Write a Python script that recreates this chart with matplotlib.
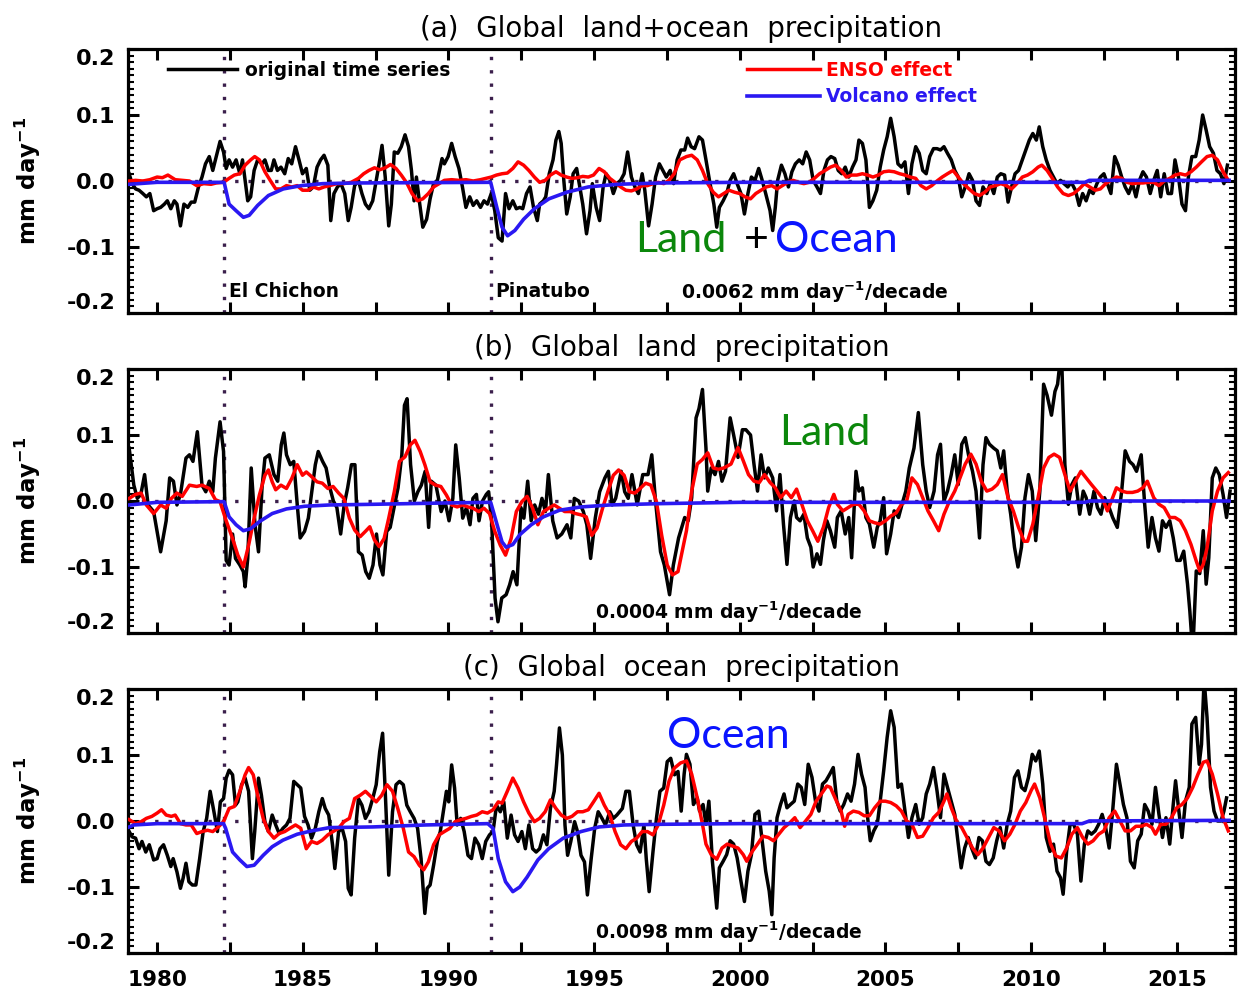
import numpy as np
import matplotlib
matplotlib.use('Agg')
import matplotlib.pyplot as plt
from matplotlib.ticker import MultipleLocator, FormatStrFormatter

plt.rcParams['font.family'] = 'DejaVu Sans'
plt.rcParams['font.weight'] = 'bold'
plt.rcParams['axes.labelweight'] = 'bold'
plt.rcParams['mathtext.default'] = 'bf'
plt.rcParams['axes.unicode_minus'] = False

# ---------------- data (year, mm/day) ----------------
eruptions = [1982.3, 1991.45]
eruption_names = ['El Chichon', 'Pinatubo']
titles = ['(a)  Global  land+ocean  precipitation',
          '(b)  Global  land  precipitation',
          '(c)  Global  ocean  precipitation']
trends = ['0.0062', '0.0004', '0.0098']
x_ticks = [1980, 1985, 1990, 1995, 2000, 2005, 2010, 2015]
y_ticks = [-0.2, -0.1, 0.0, 0.1, 0.2]

a_black = [
    (1979.04, 0.011), (1979.14, -0.004), (1979.26, -0.012), (1979.38, -0.014), (1979.51, -0.019),
    (1979.63, -0.024), (1979.75, -0.019), (1979.88, -0.045), (1980.00, -0.042), (1980.12, -0.040),
    (1980.25, -0.035), (1980.35, -0.030), (1980.47, -0.042), (1980.59, -0.030), (1980.68, -0.035),
    (1980.80, -0.068), (1980.92, -0.035), (1981.05, -0.040), (1981.17, -0.032), (1981.29, -0.032),
    (1981.42, -0.009), (1981.54, 0.006), (1981.66, 0.026), (1981.79, 0.037), (1981.91, 0.016),
    (1982.03, 0.037), (1982.16, 0.060), (1982.28, 0.044), (1982.37, 0.019), (1982.47, 0.032),
    (1982.59, 0.021), (1982.71, 0.032), (1982.84, 0.011), (1982.93, 0.032), (1983.02, 0.001),
    (1983.11, -0.030), (1983.21, -0.024), (1983.33, 0.016), (1983.45, 0.032), (1983.60, 0.026),
    (1983.70, 0.032), (1983.82, 0.016), (1983.92, 0.016), (1984.01, 0.032), (1984.13, 0.016),
    (1984.25, 0.021), (1984.38, 0.011), (1984.50, 0.034), (1984.62, 0.026), (1984.75, 0.052),
    (1984.87, 0.032), (1984.99, 0.011), (1985.12, 0.019), (1985.24, -0.014), (1985.36, -0.009),
    (1985.49, 0.021), (1985.61, 0.032), (1985.73, 0.039), (1985.86, 0.024), (1985.96, -0.060),
    (1986.07, -0.019), (1986.19, -0.009), (1986.31, -0.004), (1986.44, -0.019), (1986.56, -0.060),
    (1986.66, -0.040), (1986.78, -0.007), (1986.91, 0.001), (1987.03, -0.019), (1987.15, -0.035),
    (1987.27, -0.042), (1987.40, -0.030), (1987.52, 0.001), (1987.62, 0.026), (1987.72, 0.054),
    (1987.83, 0.006), (1987.95, -0.068), (1988.04, -0.035), (1988.14, 0.044), (1988.26, 0.042),
    (1988.38, 0.052), (1988.51, 0.070), (1988.63, 0.052), (1988.73, 0.016), (1988.82, -0.030),
    (1988.90, 0.006), (1989.00, -0.030), (1989.12, -0.070), (1989.25, -0.058), (1989.37, -0.027),
    (1989.49, -0.004), (1989.62, 0.001), (1989.78, 0.034), (1989.86, 0.026), (1989.99, 0.037),
    (1990.11, 0.057), (1990.23, 0.037), (1990.36, 0.019), (1990.48, -0.009), (1990.60, -0.040),
    (1990.73, -0.024), (1990.85, -0.037), (1990.97, -0.030), (1991.10, -0.040), (1991.22, -0.030),
    (1991.34, -0.035), (1991.47, -0.019), (1991.59, -0.045), (1991.71, -0.086), (1991.84, -0.091),
    (1991.96, -0.019), (1992.08, -0.042), (1992.21, -0.030), (1992.33, -0.042), (1992.45, -0.040),
    (1992.55, -0.042), (1992.68, -0.019), (1992.80, -0.009), (1992.92, -0.040), (1993.05, -0.060),
    (1993.13, -0.035), (1993.26, -0.030), (1993.34, -0.024), (1993.46, 0.011), (1993.59, 0.032),
    (1993.69, 0.062), (1993.79, 0.075), (1993.87, 0.057), (1993.96, 0.001), (1994.06, -0.050),
    (1994.18, -0.024), (1994.28, 0.011), (1994.40, 0.019), (1994.49, -0.004), (1994.61, -0.035),
    (1994.74, -0.080), (1994.86, -0.045), (1994.94, -0.004), (1995.07, -0.040), (1995.19, -0.060),
    (1995.31, -0.009), (1995.41, 0.011), (1995.54, 0.001), (1995.66, -0.019), (1995.78, -0.004),
    (1995.91, 0.001), (1996.03, 0.011), (1996.15, 0.044), (1996.28, 0.006), (1996.40, -0.009),
    (1996.52, -0.019), (1996.65, 0.011), (1996.74, -0.014), (1996.87, -0.068), (1996.99, -0.035),
    (1997.11, 0.006), (1997.24, 0.026), (1997.36, 0.016), (1997.48, 0.006), (1997.61, 0.016),
    (1997.73, -0.004), (1997.85, 0.032), (1997.98, 0.047), (1998.11, 0.047), (1998.21, 0.065),
    (1998.33, 0.052), (1998.45, 0.049), (1998.60, 0.067), (1998.72, 0.062), (1998.84, 0.032),
    (1998.96, 0.001), (1999.11, -0.035), (1999.21, -0.070), (1999.30, -0.040), (1999.43, -0.030),
    (1999.55, -0.019), (1999.67, 0.001), (1999.79, 0.011), (1999.91, -0.004), (2000.04, -0.019),
    (2000.16, -0.050), (2000.28, -0.019), (2000.40, 0.006), (2000.52, 0.001), (2000.65, 0.019),
    (2000.77, 0.001), (2000.89, -0.019), (2001.04, -0.045), (2001.13, -0.075), (2001.22, -0.040),
    (2001.30, 0.001), (2001.43, 0.024), (2001.55, 0.011), (2001.67, -0.009), (2001.79, 0.014),
    (2001.91, 0.026), (2002.04, 0.032), (2002.16, 0.026), (2002.28, 0.044), (2002.40, 0.032),
    (2002.52, 0.001), (2002.65, -0.009), (2002.77, -0.019), (2002.89, 0.016), (2003.01, 0.032),
    (2003.13, 0.037), (2003.26, 0.034), (2003.38, 0.016), (2003.50, 0.011), (2003.62, 0.021),
    (2003.74, 0.006), (2003.87, 0.021), (2003.99, 0.032), (2004.09, 0.062), (2004.21, 0.057),
    (2004.33, 0.032), (2004.45, -0.040), (2004.57, -0.030), (2004.70, -0.014), (2004.82, 0.021),
    (2004.94, 0.047), (2005.06, 0.067), (2005.18, 0.095), (2005.30, 0.067), (2005.43, 0.026),
    (2005.55, 0.021), (2005.67, 0.029), (2005.79, -0.019), (2005.91, 0.026), (2006.04, 0.052),
    (2006.16, 0.042), (2006.28, 0.016), (2006.40, 0.011), (2006.52, 0.037), (2006.65, 0.049),
    (2006.77, 0.049), (2006.89, 0.047), (2007.01, 0.052), (2007.13, 0.042), (2007.26, 0.032),
    (2007.38, 0.016), (2007.50, 0.006), (2007.62, -0.024), (2007.74, -0.009), (2007.87, 0.011),
    (2007.99, 0.001), (2008.11, -0.030), (2008.23, -0.037), (2008.35, -0.009), (2008.48, -0.019),
    (2008.60, -0.004), (2008.72, -0.019), (2008.84, 0.006), (2008.96, 0.011), (2009.09, 0.009),
    (2009.21, -0.032), (2009.33, -0.009), (2009.45, 0.011), (2009.57, 0.016), (2009.70, 0.032),
    (2009.82, 0.047), (2009.94, 0.062), (2010.06, 0.072), (2010.18, 0.062), (2010.28, 0.082),
    (2010.40, 0.052), (2010.52, 0.032), (2010.65, 0.016), (2010.77, 0.006), (2010.89, -0.004),
    (2011.01, 0.001), (2011.13, -0.004), (2011.26, -0.009), (2011.38, -0.002), (2011.52, -0.014),
    (2011.65, -0.037), (2011.77, -0.019), (2011.89, -0.030), (2012.01, -0.014), (2012.13, -0.019),
    (2012.26, -0.004), (2012.38, 0.006), (2012.50, 0.011), (2012.62, -0.004), (2012.74, -0.019),
    (2012.87, 0.037), (2012.99, 0.024), (2013.11, 0.006), (2013.23, -0.009), (2013.35, -0.019),
    (2013.48, -0.004), (2013.60, -0.024), (2013.72, 0.001), (2013.84, 0.014), (2013.96, 0.006),
    (2014.09, -0.019), (2014.21, 0.001), (2014.33, 0.016), (2014.45, -0.024), (2014.57, 0.011),
    (2014.70, -0.019), (2014.82, -0.019), (2014.94, 0.032), (2015.06, 0.006), (2015.18, -0.035),
    (2015.30, -0.045), (2015.40, 0.006), (2015.52, 0.037), (2015.65, 0.037), (2015.77, 0.062),
    (2015.89, 0.100), (2016.01, 0.077), (2016.13, 0.052), (2016.26, 0.042), (2016.38, 0.016),
    (2016.50, 0.011), (2016.62, -0.004), (2016.74, 0.024)]

a_enso = [
    (1979.04, 0.000), (1979.26, 0.001), (1979.51, 0.000), (1979.75, 0.002), (1980.00, 0.006),
    (1980.18, 0.005), (1980.37, 0.009), (1980.62, 0.002), (1980.86, 0.001), (1981.11, 0.000),
    (1981.36, -0.007), (1981.60, -0.004), (1981.85, -0.005), (1982.03, -0.003), (1982.28, -0.002),
    (1982.47, 0.004), (1982.65, 0.009), (1982.84, 0.011), (1983.02, 0.024), (1983.21, 0.032),
    (1983.35, 0.037), (1983.51, 0.032), (1983.70, 0.014), (1983.88, 0.001), (1984.07, -0.012),
    (1984.25, -0.012), (1984.44, -0.007), (1984.62, -0.009), (1984.81, -0.007), (1984.99, -0.014),
    (1985.18, -0.014), (1985.36, -0.009), (1985.55, -0.012), (1985.73, -0.009), (1985.92, -0.007),
    (1986.17, -0.004), (1986.41, -0.004), (1986.66, -0.002), (1986.91, 0.004), (1987.09, 0.011),
    (1987.27, 0.016), (1987.46, 0.020), (1987.64, 0.017), (1987.83, 0.020), (1988.01, 0.025),
    (1988.20, 0.019), (1988.38, 0.009), (1988.57, -0.003), (1988.75, -0.019), (1988.94, -0.030),
    (1989.12, -0.027), (1989.31, -0.019), (1989.49, -0.009), (1989.68, -0.004), (1989.86, 0.001),
    (1990.11, 0.002), (1990.36, 0.001), (1990.60, 0.002), (1990.85, 0.000), (1991.10, 0.002),
    (1991.28, 0.004), (1991.47, 0.006), (1991.65, 0.009), (1991.84, 0.011), (1992.02, 0.012),
    (1992.21, 0.019), (1992.39, 0.029), (1992.58, 0.024), (1992.76, 0.016), (1992.95, 0.006),
    (1993.13, -0.002), (1993.32, 0.001), (1993.50, 0.009), (1993.69, 0.014), (1993.87, 0.009),
    (1994.06, 0.006), (1994.24, 0.004), (1994.43, 0.005), (1994.61, 0.007), (1994.80, 0.006),
    (1994.98, 0.009), (1995.17, 0.019), (1995.35, 0.014), (1995.54, 0.004), (1995.72, -0.002),
    (1995.91, -0.009), (1996.09, -0.014), (1996.28, -0.015), (1996.46, -0.012), (1996.65, -0.007),
    (1996.83, -0.007), (1997.02, -0.004), (1997.20, -0.002), (1997.39, -0.004), (1997.57, 0.001),
    (1997.75, 0.011), (1997.94, 0.032), (1998.17, 0.037), (1998.35, 0.039), (1998.54, 0.032),
    (1998.72, 0.016), (1998.90, -0.004), (1999.09, -0.017), (1999.27, -0.024), (1999.45, -0.019),
    (1999.63, -0.014), (1999.82, -0.017), (2000.00, -0.019), (2000.18, -0.024), (2000.37, -0.027),
    (2000.55, -0.019), (2000.73, -0.014), (2000.91, -0.009), (2001.10, -0.007), (2001.28, -0.012),
    (2001.46, -0.007), (2001.65, -0.002), (2001.83, 0.001), (2002.01, -0.002), (2002.20, -0.004),
    (2002.38, -0.002), (2002.56, 0.004), (2002.74, 0.011), (2002.93, 0.016), (2003.11, 0.021),
    (2003.29, 0.024), (2003.48, 0.016), (2003.66, 0.006), (2003.84, 0.009), (2004.02, 0.009),
    (2004.21, 0.011), (2004.39, 0.009), (2004.57, 0.006), (2004.76, 0.009), (2004.94, 0.014),
    (2005.12, 0.015), (2005.30, 0.014), (2005.49, 0.011), (2005.67, 0.009), (2005.85, 0.006),
    (2006.04, 0.004), (2006.22, -0.007), (2006.40, -0.012), (2006.59, -0.007), (2006.77, 0.000),
    (2006.95, 0.006), (2007.13, 0.011), (2007.32, 0.016), (2007.50, 0.006), (2007.68, -0.004),
    (2007.87, -0.012), (2008.05, -0.019), (2008.23, -0.022), (2008.41, -0.017), (2008.60, -0.009),
    (2008.78, -0.007), (2008.96, -0.004), (2009.15, -0.007), (2009.33, -0.012), (2009.51, -0.004),
    (2009.70, 0.006), (2009.88, 0.009), (2010.06, 0.014), (2010.24, 0.021), (2010.37, 0.024),
    (2010.55, 0.016), (2010.73, 0.004), (2010.91, -0.009), (2011.10, -0.019), (2011.28, -0.022),
    (2011.46, -0.019), (2011.65, -0.012), (2011.83, -0.004), (2012.01, -0.009), (2012.20, -0.014),
    (2012.38, -0.012), (2012.56, -0.004), (2012.74, 0.001), (2012.93, 0.006), (2013.11, 0.004),
    (2013.29, -0.002), (2013.48, -0.004), (2013.66, -0.003), (2013.84, -0.003), (2014.02, -0.002),
    (2014.21, -0.002), (2014.39, -0.007), (2014.57, 0.000), (2014.76, 0.004), (2014.94, 0.009),
    (2015.12, 0.011), (2015.30, 0.009), (2015.49, 0.014), (2015.67, 0.021), (2015.85, 0.029),
    (2016.04, 0.037), (2016.22, 0.039), (2016.40, 0.032), (2016.59, 0.014), (2016.77, 0.001)]

a_volc = [
    (1979.04, -0.005), (1980.00, -0.002), (1982.30, -0.002), (1982.47, -0.035), (1982.71, -0.045),
    (1982.96, -0.055), (1983.16, -0.052), (1983.45, -0.037), (1983.82, -0.022), (1984.33, -0.012),
    (1984.95, -0.007), (1985.69, -0.004), (1986.80, -0.003), (1991.45, -0.002), (1991.66, -0.040),
    (1991.84, -0.070), (1992.03, -0.083), (1992.28, -0.075), (1992.58, -0.058), (1992.95, -0.042),
    (1993.45, -0.027), (1994.06, -0.017), (1994.80, -0.009), (1995.79, -0.005), (1997.26, -0.003),
    (2000.00, -0.002), (2011.85, -0.002), (2012.00, 0.001), (2016.80, 0.001)]

b_black = [
    (1979.04, 0.080), (1979.20, 0.024), (1979.32, 0.004), (1979.44, 0.010), (1979.57, 0.040),
    (1979.69, -0.006), (1979.88, -0.016), (1980.12, -0.077), (1980.31, -0.030), (1980.43, 0.035),
    (1980.56, 0.030), (1980.68, -0.006), (1980.80, 0.010), (1980.99, 0.065), (1981.11, 0.070),
    (1981.23, 0.060), (1981.38, 0.105), (1981.54, 0.024), (1981.67, 0.014), (1981.79, 0.030),
    (1981.91, 0.014), (1982.00, 0.065), (1982.16, 0.120), (1982.28, 0.075), (1982.37, -0.090),
    (1982.47, -0.097), (1982.59, -0.050), (1982.69, -0.087), (1982.84, -0.097), (1982.96, -0.107),
    (1983.02, -0.130), (1983.11, -0.087), (1983.23, 0.050), (1983.36, -0.036), (1983.48, -0.077),
    (1983.60, 0.020), (1983.70, 0.065), (1983.85, 0.070), (1984.01, 0.040), (1984.14, 0.030),
    (1984.26, 0.085), (1984.35, 0.103), (1984.44, 0.070), (1984.57, 0.055), (1984.69, 0.060),
    (1984.81, -0.006), (1984.91, -0.056), (1985.06, -0.046), (1985.19, -0.026), (1985.31, 0.014),
    (1985.43, 0.055), (1985.53, 0.075), (1985.68, 0.060), (1985.80, 0.050), (1985.93, 0.020),
    (1986.05, 0.000), (1986.17, -0.010), (1986.30, -0.050), (1986.42, -0.006), (1986.54, 0.020),
    (1986.67, 0.055), (1986.79, 0.055), (1986.91, -0.077), (1987.04, -0.082), (1987.16, -0.107),
    (1987.28, -0.117), (1987.41, -0.097), (1987.53, -0.050), (1987.65, -0.097), (1987.75, -0.112),
    (1987.88, -0.046), (1988.00, -0.040), (1988.15, -0.006), (1988.27, 0.020), (1988.40, 0.070),
    (1988.49, 0.145), (1988.58, 0.155), (1988.70, 0.055), (1988.83, 0.000), (1988.95, 0.014),
    (1989.07, 0.024), (1989.20, 0.045), (1989.32, -0.040), (1989.41, 0.030), (1989.57, 0.024),
    (1989.75, -0.016), (1989.88, 0.000), (1990.02, -0.030), (1990.15, 0.004), (1990.25, 0.085),
    (1990.37, 0.035), (1990.49, -0.026), (1990.62, -0.010), (1990.74, -0.036), (1990.84, 0.004),
    (1990.96, 0.010), (1991.05, -0.030), (1991.17, 0.000), (1991.30, 0.010), (1991.38, 0.014),
    (1991.48, -0.030), (1991.60, -0.147), (1991.70, -0.183), (1991.83, -0.147), (1991.98, -0.142),
    (1992.10, -0.127), (1992.22, -0.107), (1992.35, -0.127), (1992.49, -0.010), (1992.59, -0.026),
    (1992.72, 0.030), (1992.84, -0.030), (1992.96, -0.006), (1993.09, -0.020), (1993.21, 0.004),
    (1993.33, -0.016), (1993.43, 0.040), (1993.58, -0.030), (1993.73, -0.056), (1993.89, -0.050),
    (1994.07, -0.036), (1994.20, -0.056), (1994.32, 0.004), (1994.47, 0.000), (1994.63, -0.016),
    (1994.75, -0.036), (1994.88, -0.087), (1995.04, -0.026), (1995.19, 0.014), (1995.37, 0.035),
    (1995.49, 0.045), (1995.62, -0.006), (1995.74, 0.004), (1995.93, 0.045), (1996.05, 0.014),
    (1996.17, 0.004), (1996.30, 0.040), (1996.48, -0.006), (1996.67, 0.040), (1996.85, 0.040),
    (1996.98, 0.070), (1997.10, 0.004), (1997.28, -0.077), (1997.41, -0.097), (1997.59, -0.142),
    (1997.72, -0.097), (1997.90, -0.056), (1998.11, -0.025), (1998.23, -0.030), (1998.35, 0.005),
    (1998.50, 0.126), (1998.60, 0.140), (1998.72, 0.169), (1998.84, 0.080), (1998.90, 0.015),
    (1999.02, 0.050), (1999.15, 0.040), (1999.27, 0.060), (1999.39, 0.030), (1999.51, 0.045),
    (1999.67, 0.126), (1999.79, 0.100), (1999.94, 0.066), (2000.09, 0.108), (2000.21, 0.108),
    (2000.37, 0.100), (2000.49, 0.055), (2000.61, 0.015), (2000.73, 0.070), (2000.85, 0.035),
    (2000.98, 0.050), (2001.13, 0.035), (2001.26, -0.015), (2001.38, 0.040), (2001.50, -0.035),
    (2001.62, -0.096), (2001.74, -0.025), (2001.87, 0.000), (2001.95, -0.025), (2002.07, -0.030),
    (2002.20, -0.020), (2002.32, -0.056), (2002.44, -0.070), (2002.52, -0.100), (2002.65, -0.080),
    (2002.77, -0.096), (2002.87, -0.060), (2002.99, -0.030), (2003.11, -0.045), (2003.26, -0.070),
    (2003.35, -0.025), (2003.48, -0.015), (2003.62, -0.050), (2003.74, -0.025), (2003.84, -0.086),
    (2003.99, 0.045), (2004.09, 0.015), (2004.21, 0.020), (2004.33, -0.025), (2004.45, -0.035),
    (2004.60, -0.070), (2004.72, -0.040), (2004.82, -0.030), (2004.94, 0.005), (2005.04, -0.080),
    (2005.18, -0.050), (2005.30, -0.015), (2005.45, -0.025), (2005.57, -0.005), (2005.70, 0.015),
    (2005.82, 0.050), (2005.98, 0.080), (2006.13, 0.134), (2006.28, 0.055), (2006.40, 0.015),
    (2006.52, -0.010), (2006.67, 0.015), (2006.79, 0.070), (2006.89, 0.086), (2007.01, 0.000),
    (2007.13, 0.015), (2007.26, 0.040), (2007.38, 0.070), (2007.50, 0.025), (2007.62, 0.086),
    (2007.74, 0.096), (2007.87, 0.066), (2007.99, 0.045), (2008.11, 0.015), (2008.23, -0.056),
    (2008.35, 0.055), (2008.45, 0.096), (2008.57, 0.086), (2008.72, 0.080), (2008.84, 0.076),
    (2008.96, 0.050), (2009.06, 0.076), (2009.18, 0.015), (2009.30, -0.020), (2009.43, -0.070),
    (2009.55, -0.100), (2009.67, -0.070), (2009.79, 0.005), (2009.91, 0.040), (2010.04, 0.015),
    (2010.16, -0.060), (2010.30, 0.015), (2010.43, 0.177), (2010.55, 0.160), (2010.70, 0.130),
    (2010.82, 0.166), (2010.91, 0.177), (2011.04, 0.230), (2011.16, 0.055), (2011.28, -0.005),
    (2011.40, 0.025), (2011.52, 0.035), (2011.67, -0.020), (2011.79, 0.015), (2011.89, 0.005),
    (2012.01, -0.020), (2012.16, 0.015), (2012.28, -0.010), (2012.40, -0.020), (2012.52, 0.005),
    (2012.68, -0.010), (2012.80, -0.025), (2012.96, -0.040), (2013.11, 0.015), (2013.23, 0.076),
    (2013.38, 0.060), (2013.50, 0.055), (2013.62, 0.045), (2013.78, 0.070), (2013.90, -0.005),
    (2014.02, -0.070), (2014.15, -0.025), (2014.27, -0.056), (2014.39, -0.076), (2014.51, -0.030),
    (2014.63, -0.040), (2014.76, -0.030), (2014.88, -0.056), (2015.00, -0.090), (2015.12, -0.090),
    (2015.24, -0.076), (2015.37, -0.126), (2015.45, -0.167), (2015.55, -0.230), (2015.67, -0.106),
    (2015.79, -0.110), (2015.91, -0.045), (2016.01, -0.126), (2016.10, -0.086), (2016.22, 0.035),
    (2016.34, 0.050), (2016.46, 0.040), (2016.59, 0.010), (2016.71, -0.025), (2016.83, 0.015)]

b_enso = [
    (1979.04, 0.004), (1979.26, 0.010), (1979.45, 0.012), (1979.63, -0.006), (1979.88, -0.019),
    (1980.12, -0.006), (1980.31, -0.011), (1980.49, 0.004), (1980.68, 0.012), (1980.86, 0.007),
    (1981.11, 0.024), (1981.36, 0.022), (1981.54, 0.024), (1981.79, 0.019), (1982.00, 0.002),
    (1982.16, -0.001), (1982.34, -0.026), (1982.59, -0.057), (1982.77, -0.082), (1982.96, -0.100),
    (1983.14, -0.067), (1983.33, -0.026), (1983.51, 0.009), (1983.70, 0.039), (1983.82, 0.047),
    (1983.95, 0.029), (1984.07, 0.017), (1984.25, 0.024), (1984.44, 0.019), (1984.62, 0.034),
    (1984.81, 0.055), (1984.99, 0.039), (1985.12, 0.044), (1985.30, 0.037), (1985.49, 0.029),
    (1985.67, 0.027), (1985.86, 0.019), (1986.04, 0.022), (1986.23, 0.012), (1986.41, 0.004),
    (1986.60, -0.026), (1986.78, -0.044), (1986.97, -0.054), (1987.15, -0.046), (1987.30, -0.039),
    (1987.46, -0.059), (1987.62, -0.069), (1987.79, -0.057), (1987.95, -0.026), (1988.14, 0.014),
    (1988.32, 0.060), (1988.51, 0.067), (1988.69, 0.085), (1988.85, 0.092), (1989.03, 0.075),
    (1989.19, 0.055), (1989.37, 0.029), (1989.56, 0.024), (1989.74, 0.022), (1989.93, 0.009),
    (1990.11, -0.006), (1990.30, -0.009), (1990.48, -0.006), (1990.67, -0.009), (1990.85, -0.011),
    (1991.04, -0.016), (1991.22, -0.011), (1991.41, -0.019), (1991.59, -0.046), (1991.78, -0.067),
    (1991.96, -0.082), (1992.15, -0.057), (1992.33, -0.016), (1992.52, -0.001), (1992.70, 0.007),
    (1992.89, -0.011), (1993.07, -0.036), (1993.26, -0.016), (1993.44, -0.011), (1993.63, -0.006),
    (1993.81, -0.011), (1993.99, -0.016), (1994.18, -0.016), (1994.36, -0.019), (1994.55, -0.021),
    (1994.73, -0.024), (1994.92, -0.052), (1995.10, -0.041), (1995.29, -0.011), (1995.47, 0.014),
    (1995.66, 0.039), (1995.84, 0.047), (1996.03, 0.039), (1996.21, 0.014), (1996.40, 0.012),
    (1996.58, 0.019), (1996.77, 0.027), (1996.95, 0.024), (1997.14, -0.001), (1997.32, -0.052),
    (1997.51, -0.097), (1997.69, -0.112), (1997.88, -0.107), (1998.17, -0.045), (1998.35, 0.015),
    (1998.54, 0.056), (1998.72, 0.063), (1998.90, 0.073), (1999.09, 0.050), (1999.27, 0.048),
    (1999.45, 0.050), (1999.70, 0.056), (1999.94, 0.081), (2000.12, 0.061), (2000.30, 0.040),
    (2000.49, 0.030), (2000.67, 0.028), (2000.85, 0.040), (2001.04, 0.028), (2001.22, 0.020),
    (2001.40, 0.005), (2001.59, 0.015), (2001.77, 0.005), (2001.95, 0.018), (2002.13, -0.005),
    (2002.32, -0.030), (2002.50, -0.045), (2002.68, -0.061), (2002.87, -0.040), (2003.05, -0.010),
    (2003.23, 0.010), (2003.35, -0.005), (2003.54, -0.015), (2003.72, -0.010), (2003.90, -0.005),
    (2004.09, -0.005), (2004.27, -0.015), (2004.45, -0.030), (2004.63, -0.033), (2004.82, -0.035),
    (2005.00, -0.030), (2005.18, -0.023), (2005.37, -0.018), (2005.55, -0.005), (2005.73, 0.000),
    (2005.91, 0.035), (2006.10, 0.025), (2006.28, 0.005), (2006.46, -0.015), (2006.65, -0.030),
    (2006.83, -0.045), (2007.01, -0.020), (2007.20, 0.000), (2007.38, 0.015), (2007.56, 0.035),
    (2007.74, 0.056), (2007.93, 0.071), (2008.11, 0.056), (2008.29, 0.030), (2008.48, 0.015),
    (2008.66, 0.018), (2008.84, 0.025), (2009.02, 0.040), (2009.21, 0.005), (2009.39, -0.015),
    (2009.57, -0.040), (2009.76, -0.061), (2009.88, -0.061), (2010.06, -0.035), (2010.24, 0.005),
    (2010.43, 0.050), (2010.61, 0.066), (2010.79, 0.071), (2010.98, 0.066), (2011.16, 0.040),
    (2011.34, 0.015), (2011.52, 0.030), (2011.71, 0.045), (2011.89, 0.035), (2012.07, 0.025),
    (2012.26, 0.015), (2012.44, 0.005), (2012.62, -0.015), (2012.80, 0.005), (2012.93, 0.020),
    (2013.11, 0.015), (2013.29, 0.013), (2013.48, 0.013), (2013.66, 0.015), (2013.84, 0.020),
    (2013.99, 0.030), (2014.21, 0.005), (2014.39, -0.005), (2014.57, -0.010), (2014.76, -0.025),
    (2014.94, -0.025), (2015.12, -0.030), (2015.30, -0.045), (2015.49, -0.066), (2015.67, -0.091),
    (2015.79, -0.106), (2015.91, -0.096), (2016.04, -0.071), (2016.22, -0.015), (2016.40, 0.015),
    (2016.59, 0.035), (2016.77, 0.043)]

b_volc = [
    (1979.04, -0.006), (1980.00, -0.002), (1982.30, -0.001), (1982.47, -0.024), (1982.71, -0.036),
    (1982.96, -0.045), (1983.21, -0.042), (1983.52, -0.031), (1983.95, -0.019), (1984.44, -0.012),
    (1985.06, -0.008), (1985.92, -0.006), (1987.40, -0.005), (1989.86, -0.003), (1991.45, -0.002),
    (1991.67, -0.036), (1991.84, -0.062), (1991.98, -0.070), (1992.21, -0.066), (1992.45, -0.051),
    (1992.84, -0.036), (1993.26, -0.024), (1993.81, -0.014), (1994.55, -0.009), (1995.54, -0.006),
    (1997.26, -0.004), (2000.00, -0.002), (2011.85, -0.002), (2012.00, 0.000), (2016.80, 0.000)]

c_black = [
    (1979.04, -0.016), (1979.14, -0.024), (1979.26, -0.026), (1979.38, -0.042), (1979.48, -0.031),
    (1979.61, -0.047), (1979.73, -0.036), (1979.88, -0.059), (1980.00, -0.057), (1980.10, -0.042),
    (1980.22, -0.036), (1980.35, -0.052), (1980.47, -0.069), (1980.55, -0.057), (1980.68, -0.077),
    (1980.80, -0.102), (1980.89, -0.087), (1980.99, -0.064), (1981.09, -0.092), (1981.21, -0.097),
    (1981.33, -0.097), (1981.46, -0.057), (1981.58, -0.016), (1981.70, 0.004), (1981.82, 0.045),
    (1981.95, 0.014), (1982.07, -0.016), (1982.17, 0.029), (1982.28, 0.034), (1982.37, 0.065),
    (1982.47, 0.077), (1982.59, 0.070), (1982.69, 0.024), (1982.77, 0.029), (1982.90, 0.055),
    (1983.02, 0.065), (1983.14, 0.045), (1983.27, -0.057), (1983.35, -0.016), (1983.48, 0.065),
    (1983.58, 0.039), (1983.70, -0.001), (1983.82, -0.016), (1983.95, 0.009), (1984.07, -0.006),
    (1984.19, -0.019), (1984.32, -0.011), (1984.44, -0.006), (1984.56, 0.004), (1984.69, 0.060),
    (1984.81, 0.055), (1984.93, 0.050), (1985.06, 0.007), (1985.18, -0.006), (1985.30, -0.026),
    (1985.43, -0.011), (1985.55, 0.014), (1985.67, 0.034), (1985.77, 0.019), (1985.89, 0.009),
    (1986.02, -0.036), (1986.10, -0.072), (1986.23, -0.016), (1986.35, -0.011), (1986.47, -0.031),
    (1986.56, -0.102), (1986.66, -0.112), (1986.78, -0.026), (1986.91, 0.034), (1987.03, 0.024),
    (1987.15, 0.004), (1987.27, 0.014), (1987.40, 0.034), (1987.52, 0.055), (1987.64, 0.105),
    (1987.74, 0.133), (1987.83, 0.045), (1987.95, -0.082), (1988.08, 0.014), (1988.20, 0.055),
    (1988.32, 0.060), (1988.45, 0.055), (1988.57, 0.024), (1988.69, 0.014), (1988.82, 0.004),
    (1988.94, -0.011), (1989.06, -0.057), (1989.19, -0.140), (1989.27, -0.102), (1989.37, -0.097),
    (1989.49, -0.067), (1989.62, -0.031), (1989.72, -0.016), (1989.84, 0.019), (1989.93, 0.045),
    (1990.01, 0.029), (1990.11, 0.085), (1990.21, 0.050), (1990.30, -0.006), (1990.42, 0.004),
    (1990.54, -0.016), (1990.67, -0.052), (1990.79, -0.057), (1990.91, -0.026), (1991.04, -0.036),
    (1991.16, -0.057), (1991.28, -0.031), (1991.41, -0.021), (1991.53, -0.016), (1991.65, 0.024),
    (1991.78, 0.014), (1991.90, 0.029), (1992.02, -0.026), (1992.15, 0.009), (1992.27, -0.021),
    (1992.39, -0.031), (1992.52, -0.016), (1992.64, -0.042), (1992.76, -0.006), (1992.89, -0.042),
    (1993.01, -0.047), (1993.13, -0.042), (1993.26, -0.021), (1993.38, -0.036), (1993.50, 0.019),
    (1993.63, 0.045), (1993.71, 0.085), (1993.81, 0.141), (1993.91, 0.100), (1994.00, -0.006),
    (1994.09, -0.052), (1994.20, -0.031), (1994.33, -0.001), (1994.43, -0.016), (1994.55, -0.052),
    (1994.67, -0.062), (1994.77, -0.112), (1994.90, -0.057), (1995.02, -0.011), (1995.14, 0.014),
    (1995.27, 0.004), (1995.39, -0.006), (1995.54, 0.014), (1995.66, 0.004), (1995.78, 0.009),
    (1995.97, 0.019), (1996.09, 0.045), (1996.21, 0.045), (1996.34, -0.006), (1996.46, -0.036),
    (1996.58, -0.047), (1996.71, -0.006), (1996.79, -0.057), (1996.89, -0.107), (1997.02, -0.047),
    (1997.14, 0.004), (1997.26, 0.045), (1997.39, 0.050), (1997.51, 0.090), (1997.63, 0.095),
    (1997.76, 0.070), (1997.88, 0.075), (1997.99, 0.015), (1998.09, 0.071), (1998.17, 0.101),
    (1998.29, 0.086), (1998.41, 0.025), (1998.54, 0.035), (1998.62, 0.015), (1998.74, 0.025),
    (1998.84, -0.005), (1998.94, 0.030), (1999.06, -0.061), (1999.21, -0.132), (1999.30, -0.071),
    (1999.43, -0.061), (1999.55, -0.051), (1999.67, -0.030), (1999.79, -0.035), (1999.91, -0.056),
    (2000.04, -0.091), (2000.16, -0.122), (2000.28, -0.076), (2000.40, -0.051), (2000.52, 0.010),
    (2000.65, 0.015), (2000.77, -0.030), (2000.89, -0.076), (2001.01, -0.106), (2001.10, -0.142),
    (2001.18, -0.056), (2001.28, 0.005), (2001.40, 0.025), (2001.52, 0.041), (2001.62, 0.020),
    (2001.74, 0.025), (2001.87, 0.030), (2001.99, 0.056), (2002.11, 0.051), (2002.23, 0.025),
    (2002.35, 0.086), (2002.48, 0.066), (2002.60, 0.030), (2002.72, 0.015), (2002.84, 0.056),
    (2002.96, 0.061), (2003.09, 0.071), (2003.21, 0.081), (2003.33, 0.030), (2003.45, 0.015),
    (2003.57, 0.025), (2003.70, 0.041), (2003.82, 0.030), (2003.94, 0.056), (2004.06, 0.101),
    (2004.18, 0.071), (2004.30, 0.051), (2004.39, 0.005), (2004.48, -0.030), (2004.60, -0.015),
    (2004.72, -0.005), (2004.82, 0.030), (2004.94, 0.076), (2005.06, 0.127), (2005.18, 0.167),
    (2005.30, 0.142), (2005.43, 0.051), (2005.55, 0.056), (2005.67, 0.015), (2005.79, -0.025),
    (2005.91, 0.005), (2006.04, 0.025), (2006.16, -0.005), (2006.28, 0.005), (2006.40, 0.041),
    (2006.52, 0.056), (2006.65, 0.081), (2006.77, 0.046), (2006.89, 0.005), (2007.01, 0.071),
    (2007.13, 0.051), (2007.26, 0.030), (2007.38, 0.010), (2007.50, -0.035), (2007.60, -0.071),
    (2007.72, -0.041), (2007.84, -0.025), (2007.96, -0.041), (2008.09, -0.056), (2008.21, -0.025),
    (2008.33, -0.030), (2008.45, -0.061), (2008.57, -0.066), (2008.70, -0.056), (2008.82, -0.030),
    (2008.94, -0.010), (2009.06, -0.041), (2009.18, -0.005), (2009.30, 0.015), (2009.43, 0.066),
    (2009.55, 0.076), (2009.67, 0.051), (2009.79, 0.046), (2009.91, 0.066), (2010.04, 0.101),
    (2010.16, 0.091), (2010.28, 0.106), (2010.40, 0.056), (2010.52, -0.025), (2010.65, -0.046),
    (2010.77, -0.035), (2010.89, -0.076), (2011.01, -0.086), (2011.10, -0.111), (2011.22, -0.046),
    (2011.34, -0.005), (2011.46, -0.005), (2011.59, -0.020), (2011.71, -0.091), (2011.83, -0.035),
    (2011.95, -0.015), (2012.07, -0.020), (2012.20, -0.015), (2012.32, -0.005), (2012.44, 0.010),
    (2012.56, -0.010), (2012.68, -0.041), (2012.80, 0.015), (2012.93, 0.086), (2013.05, 0.056),
    (2013.17, 0.025), (2013.29, 0.005), (2013.41, -0.061), (2013.54, -0.071), (2013.66, -0.030),
    (2013.78, -0.020), (2013.90, 0.025), (2014.02, 0.015), (2014.15, -0.005), (2014.27, 0.051),
    (2014.39, 0.010), (2014.51, -0.025), (2014.63, 0.005), (2014.76, -0.035), (2014.88, 0.025),
    (2014.96, 0.061), (2015.06, 0.020), (2015.18, -0.025), (2015.30, 0.030), (2015.43, 0.051),
    (2015.52, 0.147), (2015.65, 0.157), (2015.77, 0.086), (2015.85, 0.116), (2015.94, 0.215),
    (2016.04, 0.157), (2016.16, 0.051), (2016.28, 0.015), (2016.40, 0.000), (2016.52, 0.000),
    (2016.62, 0.015), (2016.71, 0.035)]

c_enso = [
    (1979.04, 0.002), (1979.26, -0.004), (1979.45, -0.001), (1979.63, 0.004), (1979.82, 0.007),
    (1980.00, 0.012), (1980.15, 0.017), (1980.31, 0.009), (1980.49, 0.007), (1980.62, 0.009),
    (1980.80, -0.004), (1980.99, -0.006), (1981.17, -0.006), (1981.36, -0.019), (1981.54, -0.016),
    (1981.73, -0.014), (1981.91, -0.016), (1982.10, -0.009), (1982.28, -0.001), (1982.47, 0.019),
    (1982.65, 0.022), (1982.84, 0.045), (1983.02, 0.070), (1983.14, 0.081), (1983.30, 0.070),
    (1983.45, 0.039), (1983.64, 0.004), (1983.82, -0.016), (1984.01, -0.026), (1984.19, -0.019),
    (1984.38, -0.016), (1984.56, -0.011), (1984.75, -0.006), (1984.93, -0.011), (1985.12, -0.042),
    (1985.30, -0.031), (1985.49, -0.034), (1985.67, -0.029), (1985.86, -0.021), (1986.04, -0.016),
    (1986.23, -0.011), (1986.41, -0.001), (1986.60, 0.004), (1986.78, 0.034), (1986.97, 0.039),
    (1987.15, 0.045), (1987.34, 0.037), (1987.52, 0.029), (1987.71, 0.039), (1987.89, 0.055),
    (1988.08, 0.045), (1988.26, 0.019), (1988.45, -0.011), (1988.63, -0.047), (1988.82, -0.054),
    (1989.00, -0.067), (1989.15, -0.074), (1989.31, -0.062), (1989.49, -0.036), (1989.68, -0.021),
    (1989.86, -0.016), (1990.05, -0.011), (1990.23, -0.001), (1990.42, 0.002), (1990.60, 0.004),
    (1990.79, 0.007), (1990.97, 0.009), (1991.16, 0.014), (1991.34, 0.012), (1991.53, 0.017),
    (1991.71, 0.029), (1991.84, 0.027), (1992.02, 0.045), (1992.21, 0.065), (1992.39, 0.050),
    (1992.58, 0.029), (1992.76, 0.012), (1992.95, -0.001), (1993.13, 0.004), (1993.32, 0.014),
    (1993.50, 0.032), (1993.69, 0.019), (1993.87, 0.009), (1994.06, 0.004), (1994.24, 0.007),
    (1994.43, 0.014), (1994.61, 0.014), (1994.80, 0.017), (1994.98, 0.029), (1995.17, 0.042),
    (1995.35, 0.024), (1995.54, 0.009), (1995.72, -0.016), (1995.91, -0.036), (1996.09, -0.042),
    (1996.28, -0.031), (1996.46, -0.026), (1996.65, -0.016), (1996.83, -0.016), (1997.02, -0.021),
    (1997.20, -0.006), (1997.39, 0.024), (1997.57, 0.060), (1997.75, 0.080), (1997.97, 0.088),
    (1998.17, 0.091), (1998.35, 0.071), (1998.54, 0.035), (1998.72, -0.005), (1998.84, -0.035),
    (1999.02, -0.051), (1999.21, -0.058), (1999.39, -0.041), (1999.57, -0.035), (1999.76, -0.038),
    (1999.94, -0.041), (2000.12, -0.051), (2000.24, -0.061), (2000.43, -0.046), (2000.61, -0.035),
    (2000.79, -0.023), (2000.98, -0.025), (2001.16, -0.030), (2001.34, -0.020), (2001.52, -0.010),
    (2001.71, -0.003), (2001.89, 0.005), (2002.07, -0.010), (2002.26, 0.000), (2002.44, 0.010),
    (2002.62, 0.030), (2002.80, 0.041), (2002.99, 0.053), (2003.11, 0.051), (2003.29, 0.033),
    (2003.48, 0.015), (2003.60, -0.008), (2003.72, 0.010), (2003.90, 0.015), (2004.09, 0.013),
    (2004.27, 0.008), (2004.45, 0.008), (2004.63, 0.020), (2004.82, 0.030), (2005.00, 0.030),
    (2005.18, 0.028), (2005.37, 0.023), (2005.55, 0.015), (2005.73, 0.000), (2005.91, -0.005),
    (2006.10, -0.025), (2006.28, -0.023), (2006.46, -0.010), (2006.65, 0.005), (2006.83, 0.013),
    (2007.01, 0.030), (2007.11, 0.041), (2007.26, 0.020), (2007.44, 0.000), (2007.62, -0.010),
    (2007.80, -0.025), (2007.99, -0.041), (2008.17, -0.051), (2008.35, -0.041), (2008.54, -0.025),
    (2008.72, -0.010), (2008.90, -0.015), (2009.09, -0.030), (2009.27, -0.020), (2009.45, -0.005),
    (2009.63, 0.015), (2009.82, 0.028), (2010.00, 0.046), (2010.12, 0.056), (2010.30, 0.035),
    (2010.49, 0.000), (2010.67, -0.035), (2010.85, -0.053), (2011.04, -0.056), (2011.22, -0.041),
    (2011.40, -0.020), (2011.59, -0.010), (2011.77, -0.025), (2011.95, -0.035), (2012.13, -0.030),
    (2012.32, -0.020), (2012.50, -0.015), (2012.68, 0.005), (2012.87, 0.015), (2013.05, 0.000),
    (2013.23, -0.015), (2013.41, -0.015), (2013.60, -0.008), (2013.78, -0.008), (2013.96, -0.005),
    (2014.15, -0.010), (2014.27, -0.020), (2014.45, -0.005), (2014.63, -0.005), (2014.82, 0.005),
    (2015.00, 0.020), (2015.18, 0.025), (2015.37, 0.035), (2015.55, 0.051), (2015.73, 0.071),
    (2015.91, 0.089), (2016.04, 0.091), (2016.22, 0.071), (2016.40, 0.041), (2016.59, 0.005),
    (2016.77, -0.015)]

c_volc = [
    (1979.04, -0.009), (1979.20, -0.006), (1980.00, -0.004), (1982.28, -0.004), (1982.35, -0.011),
    (1982.59, -0.047), (1982.84, -0.059), (1983.08, -0.069), (1983.33, -0.067), (1983.64, -0.052),
    (1983.95, -0.039), (1984.32, -0.029), (1984.81, -0.020), (1985.30, -0.015), (1985.92, -0.010),
    (1987.40, -0.009), (1989.20, -0.006), (1991.35, -0.004), (1991.53, -0.011), (1991.71, -0.057),
    (1991.96, -0.092), (1992.21, -0.107), (1992.45, -0.100), (1992.70, -0.085), (1993.07, -0.059),
    (1993.44, -0.042), (1993.94, -0.026), (1994.55, -0.016), (1995.17, -0.009), (1996.03, -0.006),
    (1997.26, -0.005), (2000.00, -0.004), (2011.75, -0.004), (2012.00, 0.000), (2016.80, 0.001)]

panels = [(a_black, a_enso, a_volc), (b_black, b_enso, b_volc), (c_black, c_enso, c_volc)]

# ---------------- layout / style ----------------
RED = '#ff0000'
BLUE = '#2a18f2'
GREEN = '#0b870b'
WORDBLUE = '#0a14ff'
PURPLE = '#3b1f4c'
W, H = 1238.0, 993.0
ax_tops = [49, 369, 689]
ax_left, ax_right, ax_h = 128, 1235, 264

fig = plt.figure(figsize=(W / 100, H / 100), dpi=100)
axes = []
for k, top in enumerate(ax_tops):
    ax = fig.add_axes([ax_left / W, 1 - (top + ax_h) / H, (ax_right - ax_left) / W, ax_h / H])
    axes.append(ax)
    black, enso, volc = panels[k]
    t, v = np.array(black).T
    lb, = ax.plot(t, v, color='black', lw=2.5, zorder=2)
    t, v = np.array(enso).T
    lr, = ax.plot(t, v, color=RED, lw=2.5, zorder=3)
    t, v = np.array(volc).T
    lv, = ax.plot(t, v, color=BLUE, lw=2.6, zorder=4)

    ax.axhline(0, color=PURPLE, ls=(0, (1, 3)), lw=2.4, zorder=1)
    for e in eruptions:
        ax.axvline(e, color=PURPLE, ls=(0, (1, 3)), lw=2.4, zorder=1)

    ax.set_xlim(1979, 2017)
    ax.set_ylim(-0.2, 0.2)
    ax.xaxis.set_major_locator(MultipleLocator(5))
    ax.xaxis.set_minor_locator(MultipleLocator(2.5))
    ax.set_yticks(y_ticks)
    ax.yaxis.set_minor_locator(MultipleLocator(0.01))
    ax.yaxis.set_major_formatter(FormatStrFormatter('%.1f'))
    ax.tick_params(which='both', direction='in', top=True, right=True)
    ax.tick_params(axis='x', which='both', length=8, width=2.2, labelsize=15.5, pad=12)
    ax.tick_params(axis='y', which='major', length=8, width=2.2, labelsize=16, pad=9)
    ax.tick_params(axis='y', which='minor', length=4, width=1.5)
    for s in ax.spines.values():
        s.set_linewidth(2.3)
    yt = ax.yaxis.get_major_ticks()
    yt[0].label1.set_va('bottom')
    yt[-1].label1.set_va('top')
    if k < 2:
        ax.tick_params(axis='x', labelbottom=False)
    else:
        ax.set_xticks(x_ticks)

    ax.set_ylabel('mm day$^{-1}$', fontsize=16.5)
    ax.yaxis.set_label_coords(-0.077, 0.5)
    ax.set_title(titles[k], fontsize=20, fontweight='normal', pad=9)

    tx = 1997.98 if k == 0 else 1995.03
    ax.text(tx, -0.168, trends[k] + ' mm day$^{-1}$/decade', fontsize=13.5, va='center', ha='left')

    if k == 0:
        for e, name in zip(eruptions, eruption_names):
            ax.text(e + 0.15, -0.168, name, fontsize=13.5, va='center', ha='left')
        leg1 = ax.legend([lb], ['original time series'], loc='upper left',
                         bbox_to_anchor=(0.036, 0.955), frameon=False, fontsize=13.5,
                         handlelength=3.7, handletextpad=0.4, borderpad=0, borderaxespad=0)
        ax.add_artist(leg1)
        ax.legend([lr, lv], ['ENSO effect', 'Volcano effect'], loc='upper left',
                  bbox_to_anchor=(0.559, 0.955), frameon=False, fontsize=13.5,
                  labelcolor='linecolor', handlelength=3.9, handletextpad=0.3,
                  labelspacing=0.4, borderpad=0, borderaxespad=0)

# big coloured panel labels
big = dict(fontsize=31, fontfamily='Lato', fontweight='normal', va='baseline', ha='left', zorder=6)
axes[0].text(1996.40, -0.108, 'Land', color=GREEN, **big)
axes[0].text(2000.15, -0.108, '+', color='black', **big)
axes[0].text(2001.21, -0.108, 'Ocean', color=WORDBLUE, **big)
axes[1].text(2001.35, 0.085, 'Land', color=GREEN, **big)
axes[2].text(1997.50, 0.111, 'Ocean', color=WORDBLUE, **big)

fig.savefig('out.png', dpi=100)
